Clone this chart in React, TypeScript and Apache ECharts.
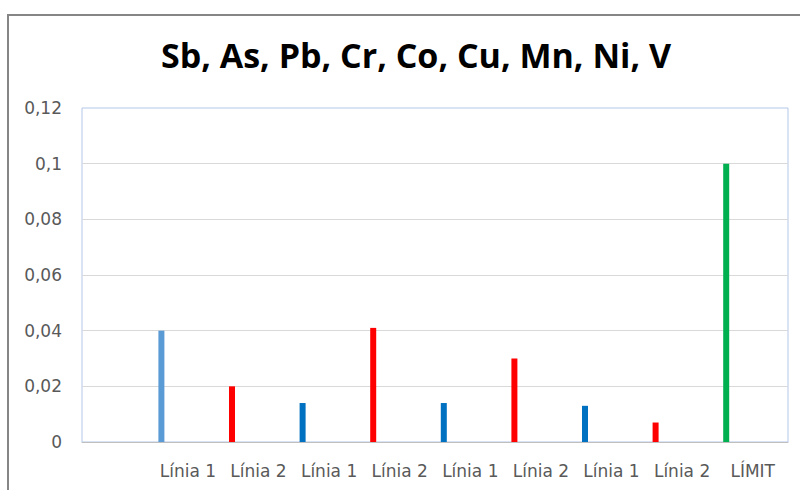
import React, { useEffect, useRef } from "react";
import * as echarts from "echarts";

const categories = ["", "Línia 1", "Línia 2", "Línia 1", "Línia 2", "Línia 1", "Línia 2", "Línia 1", "Línia 2", "LÍMIT"];
const values = [null, 0.04, 0.02, 0.014, 0.041, 0.014, 0.03, 0.013, 0.007, 0.1];
const barColors = ["#0070C0", "#5B9BD5", "#FF0000", "#0070C0", "#FF0000", "#0070C0", "#FF0000", "#0070C0", "#FF0000", "#00B050"];
const spacer = categories.map(() => null);
const title = "Sb, As, Pb, Cr, Co, Cu, Mn, Ni, V";

const fmt = (v: number) => String(Math.round(v * 100) / 100).replace(".", ",");

export default function App() {
  const ref = useRef<HTMLDivElement>(null);
  useEffect(() => {
    if (!ref.current) return;
    const chart = echarts.init(ref.current, undefined, { renderer: "svg" });
    const font = "'DejaVu Sans', sans-serif";
    chart.setOption({
      animation: false,
      title: {
        text: title,
        left: 411,
        textAlign: "center",
        top: 33,
        textStyle: { fontFamily: "'Open Sans', sans-serif", fontWeight: "bold", fontSize: 34, color: "#000" },
      },
      graphic: [
        {
          type: "rect",
          shape: { x: 8, y: 15, width: 820, height: 500 },
          style: { fill: "none", stroke: "#868686", lineWidth: 2 },
          silent: true,
        },
      ],
      grid: {
        left: 82,
        top: 108,
        right: 12,
        bottom: 48,
        show: true,
        borderColor: "#B4C7E7",
        borderWidth: 1,
        backgroundColor: "transparent",
      },
      xAxis: {
        type: "category",
        data: categories,
        axisLine: { lineStyle: { color: "#BFBFBF", width: 1 } },
        axisTick: { show: false },
        axisLabel: { color: "#595959", fontFamily: font, fontSize: 17, margin: 20, interval: 0 },
      },
      yAxis: {
        type: "value",
        min: 0,
        max: 0.12,
        interval: 0.02,
        axisLine: { show: false },
        axisTick: { show: false },
        splitLine: { show: true, showMaxLine: false, lineStyle: { color: "#D9D9D9", width: 1 } },
        axisLabel: { color: "#595959", fontFamily: font, fontSize: 17, margin: 20, formatter: fmt },
      },
      series: [
        {
          type: "bar",
          barWidth: 6,
          barGap: 0,
          data: values.map((v, i) => ({ value: v, itemStyle: { color: barColors[i] } })),
        },
        {
          type: "bar",
          barWidth: 53,
          barGap: 0,
          data: spacer,
          itemStyle: { color: "transparent" },
          silent: true,
        },
      ],
    });
    return () => chart.dispose();
  }, []);
  return <div ref={ref} style={{ position: "fixed", left: 0, top: 0, width: 800, height: 490, background: "#fff" }} />;
}
